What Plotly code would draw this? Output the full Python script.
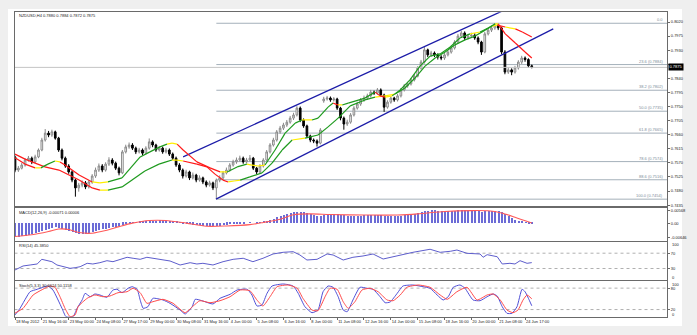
import plotly.graph_objects as go

# ---------------- data ----------------
title_text = "NZDUSD,H4 0.7880 0.7884 0.7872 0.7875"
macd_text = "MACD(12,26,9) -0.00071 0.00006"
rsi_text = "RSI(14) 45.3850"
stoch_text = "Stoch(5,3,3) 30.6624 50.1158"

x_tick_bars = [0, 8, 16, 24, 32, 40, 48, 56, 64, 72, 80, 88, 96, 104, 112, 120, 128, 136, 144, 152]
x_tick_text = ["18 May 2012", "21 May 16:00", "23 May 00:00", "24 May 08:00", "27 May 17:00",
               "29 May 00:00", "30 May 08:00", "31 May 16:00", "4 Jun 00:00", "5 Jun 08:00",
               "6 Jun 16:00", "8 Jun 00:00", "11 Jun 08:00", "12 Jun 16:00", "14 Jun 00:00",
               "15 Jun 08:00", "18 Jun 16:00", "20 Jun 00:00", "21 Jun 08:00", "24 Jun 17:00"]

price_ticks = [0.8020, 0.7975, 0.7930, 0.7885, 0.7840, 0.7795, 0.7750, 0.7705,
               0.7660, 0.7615, 0.7570, 0.7525, 0.7480, 0.7435]

# candles, in units of 0.0001
open_pips = [7589, 7547, 7553, 7563, 7579, 7585, 7573, 7589, 7611, 7643,
             7665, 7659, 7669, 7649, 7611, 7585, 7560, 7541, 7515, 7490,
             7499, 7506, 7493, 7509, 7528, 7547, 7560, 7547, 7566, 7579,
             7569, 7553, 7538, 7605, 7621, 7627, 7617, 7605, 7611, 7601,
             7617, 7637, 7627, 7611, 7617, 7605, 7611, 7598, 7585, 7563,
             7547, 7528, 7541, 7522, 7531, 7515, 7522, 7509, 7499, 7506,
             7490, 7515, 7522, 7538, 7547, 7563, 7573, 7579, 7585, 7573,
             7579, 7585, 7553, 7541, 7560, 7579, 7605, 7627, 7643, 7669,
             7681, 7691, 7700, 7713, 7723, 7745, 7707, 7688, 7656, 7643,
             7640, 7633, 7768, 7774, 7777, 7771, 7774, 7745, 7713, 7694,
             7700, 7723, 7745, 7758, 7771, 7777, 7784, 7796, 7793, 7803,
             7787, 7748, 7764, 7777, 7771, 7784, 7803, 7816, 7822, 7835,
             7847, 7873, 7892, 7931, 7915, 7921, 7915, 7908, 7905, 7915,
             7924, 7937, 7956, 7975, 7985, 7969, 7975, 7978, 7969, 7956,
             7924, 7982, 7994, 8001, 8010, 8001, 7924, 7860, 7867, 7860,
             7873, 7892, 7905, 7900, 7880]
high_pips = [7593, 7560, 7570, 7585, 7592, 7590, 7596, 7616, 7650, 7678,
             7672, 7676, 7673, 7653, 7616, 7590, 7566, 7546, 7519, 7506,
             7514, 7512, 7515, 7534, 7555, 7568, 7566, 7572, 7588, 7585,
             7574, 7558, 7611, 7628, 7635, 7633, 7622, 7618, 7616, 7623,
             7648, 7642, 7631, 7624, 7622, 7618, 7616, 7603, 7590, 7569,
             7552, 7548, 7545, 7539, 7535, 7530, 7526, 7514, 7513, 7510,
             7520, 7530, 7544, 7555, 7569, 7580, 7587, 7593, 7590, 7586,
             7595, 7589, 7557, 7566, 7585, 7611, 7633, 7650, 7675, 7688,
             7698, 7707, 7720, 7730, 7751, 7750, 7712, 7692, 7660, 7648,
             7645, 7681, 7781, 7784, 7782, 7780, 7778, 7749, 7718, 7708,
             7729, 7751, 7765, 7777, 7785, 7791, 7803, 7801, 7809, 7808,
             7791, 7770, 7783, 7781, 7790, 7809, 7822, 7829, 7841, 7854,
             7879, 7899, 7940, 7935, 7928, 7926, 7920, 7914, 7921, 7930,
             7944, 7962, 7982, 7992, 7990, 7982, 7986, 7984, 7974, 7960,
             7988, 8000, 8008, 8016, 8014, 8005, 7930, 7876, 7872, 7880,
             7898, 7912, 7910, 7904, 7884]
low_pips = [7540, 7541, 7549, 7558, 7574, 7566, 7568, 7585, 7607, 7638,
            7652, 7653, 7644, 7605, 7578, 7554, 7535, 7508, 7462, 7478,
            7492, 7486, 7488, 7503, 7522, 7541, 7540, 7542, 7560, 7562,
            7547, 7530, 7534, 7600, 7615, 7611, 7598, 7600, 7594, 7597,
            7612, 7620, 7605, 7606, 7599, 7600, 7592, 7579, 7557, 7540,
            7520, 7523, 7515, 7517, 7508, 7510, 7502, 7492, 7494, 7483,
            7454, 7508, 7517, 7533, 7542, 7558, 7567, 7574, 7567, 7568,
            7574, 7547, 7534, 7537, 7555, 7575, 7600, 7622, 7638, 7663,
            7675, 7685, 7695, 7707, 7718, 7700, 7682, 7649, 7636, 7633,
            7622, 7629, 7762, 7769, 7765, 7766, 7739, 7706, 7676, 7688,
            7695, 7718, 7740, 7752, 7765, 7771, 7779, 7787, 7788, 7781,
            7733, 7743, 7759, 7765, 7766, 7779, 7798, 7810, 7817, 7830,
            7843, 7868, 7887, 7908, 7909, 7908, 7900, 7898, 7899, 7910,
            7919, 7932, 7951, 7970, 7962, 7964, 7970, 7963, 7949, 7915,
            7920, 7977, 7988, 7995, 7994, 7917, 7853, 7854, 7850, 7855,
            7868, 7886, 7893, 7874, 7872]
close_pips = [7547, 7553, 7563, 7579, 7585, 7573, 7589, 7611, 7643, 7665,
              7659, 7669, 7649, 7611, 7585, 7560, 7541, 7515, 7490, 7499,
              7506, 7493, 7509, 7528, 7547, 7560, 7547, 7566, 7579, 7569,
              7553, 7538, 7605, 7621, 7627, 7617, 7605, 7611, 7601, 7617,
              7637, 7627, 7611, 7617, 7605, 7611, 7598, 7585, 7563, 7547,
              7528, 7541, 7522, 7531, 7515, 7522, 7509, 7499, 7506, 7490,
              7515, 7522, 7538, 7547, 7563, 7573, 7579, 7585, 7573, 7579,
              7585, 7553, 7541, 7560, 7579, 7605, 7627, 7643, 7669, 7681,
              7691, 7700, 7713, 7723, 7745, 7707, 7688, 7656, 7643, 7640,
              7633, 7675, 7774, 7777, 7771, 7774, 7745, 7713, 7694, 7700,
              7723, 7745, 7758, 7771, 7777, 7784, 7796, 7793, 7803, 7787,
              7748, 7764, 7777, 7771, 7784, 7803, 7816, 7822, 7835, 7847,
              7873, 7892, 7931, 7915, 7921, 7915, 7908, 7905, 7915, 7924,
              7937, 7956, 7975, 7985, 7969, 7975, 7978, 7969, 7956, 7924,
              7982, 7994, 8001, 8010, 8001, 7924, 7860, 7867, 7860, 7873,
              7892, 7905, 7900, 7880, 7875]

# two coloured moving averages (bar index, price in 0.0001)
fast_bar = [0, 3.0, 6.0, 7.7, 9.8, 11.9, 13.4, 14.9, 19.1, 23.0, 25.3, 27.7, 31.9, 37.3, 40.2,
            43.2, 45.3, 46.8, 48.3, 50.1, 54.2, 58.1, 61.1, 63.2, 66.2, 69.1, 70.6, 72.4, 74.5,
            77.5, 80.5, 83.5, 85.5, 88.5, 90.3, 93.3, 94.8, 96.3, 97.5, 99.3, 104.3, 107.3, 108.8,
            110.3, 112.4, 114.8, 117.7, 120.7, 123.7, 126.7, 129.7, 132.6, 135.6, 138.6, 141.0,
            143.1, 144.0, 146.1, 149.1, 152.0, 154]
fast_pips = [7586, 7566, 7554, 7554, 7566, 7576, 7573, 7563, 7531, 7509, 7506, 7509, 7522, 7589, 7605,
             7621, 7630, 7633, 7630, 7611, 7573, 7554, 7541, 7541, 7557, 7566, 7563, 7560, 7563,
             7611, 7665, 7697, 7707, 7707, 7713, 7748, 7761, 7755, 7755, 7761, 7777, 7796, 7784,
             7780, 7784, 7803, 7835, 7879, 7911, 7918, 7940, 7969, 7982, 7988, 8001,
             8014, 8014, 7982, 7953, 7924, 7905]
slow_bar = [0, 3.0, 6.0, 8.9, 13.1, 19.1, 23.0, 25.3, 27.7, 31.9, 38.7, 42.9, 45.0, 46.8, 48.3,
            50.1, 54.2, 57.2, 59.6, 62.0, 63.5, 65.3, 67.1, 70.0, 73.6, 76.6, 79.6, 82.6, 86.4,
            90.3, 93.3, 96.3, 99.9, 104.3, 107.3, 110.3, 113.3, 116.2, 119.2, 122.2, 125.2, 128.2,
            131.1, 134.1, 137.1, 140.1, 142.2, 143.7, 146.1, 149.1, 151.2, 154]
slow_pips = [7598, 7582, 7569, 7557, 7547, 7515, 7490, 7483, 7483, 7493, 7544, 7566, 7573, 7579, 7579,
             7576, 7566, 7557, 7534, 7515, 7509, 7512, 7515, 7525, 7538, 7569, 7611, 7643, 7649,
             7659, 7685, 7713, 7752, 7771, 7780, 7784, 7790, 7809, 7841, 7879, 7905, 7924,
             7947, 7963, 7975, 7994, 8007, 8010, 8004, 7998, 7988, 7972]

# regression channel end points (bar index, price)
upper_bar = [50.1, 146.0]
upper_price = [0.7589, 0.8059]
lower_bar = [59.9, 160.4]
lower_price = [0.7454, 0.7998]

# Fibonacci retracement
fib_start_bar = 60
fib_prices = [0.8016, 0.7884, 0.7802, 0.7735, 0.7665, 0.7574, 0.7516, 0.7454]
fib_labels = ["0.0", "23.6 (0.7884)", "38.2 (0.7802)", "50.0 (0.7735)", "61.8 (0.7665)",
              "78.6 (0.7574)", "88.6 (0.7516)", "100.0 (0.7454)"]
bid_price = 0.7875
bid_text = "0.7875"

# MACD
macd_hist = [-0.0064, -0.0063, -0.0061, -0.0058,
             -0.0055, -0.0052, -0.0048, -0.0044,
             -0.0038, -0.0032, -0.0027, -0.0023, -0.0021, -0.0022,
             -0.0026, -0.0031, -0.0036, -0.0041, -0.0046, -0.0049, -0.0050,
             -0.0050, -0.0048, -0.0044, -0.0039, -0.0034, -0.0030, -0.0026,
             -0.0022, -0.0019, -0.0017, -0.0015, -0.0009, -0.0005,
             -0.0002, 0.0001, 0.0003, 0.0005, 0.0006, 0.0007, 0.0009, 0.0010, 0.0010, 0.0011, 0.0011, 0.0010, 0.0009,
             0.0007, 0.0004, 0.0001, -0.0002, -0.0004, -0.0006, -0.0008, -0.0010, -0.0011,
             -0.0013, -0.0014, -0.0015, -0.0016, -0.0015, -0.0013, -0.0011, -0.0009, -0.0007,
             -0.0005, -0.0003, -0.0002, -0.0001, 0.0000, 0.0001, 0.0000, -0.0001,
             0.0002, 0.0005, 0.0009, 0.0014, 0.0019, 0.0025, 0.0030, 0.0035, 0.0040, 0.0044, 0.0047, 0.0050,
             0.0050, 0.0048, 0.0044, 0.0040, 0.0036, 0.0033, 0.0032, 0.0035,
             0.0038, 0.0040, 0.0041, 0.0040, 0.0037, 0.0034, 0.0032, 0.0031,
             0.0031, 0.0032, 0.0033, 0.0034, 0.0034, 0.0035, 0.0035, 0.0035, 0.0034, 0.0031, 0.0030, 0.0030, 0.0030, 0.0031,
             0.0032, 0.0034, 0.0036, 0.0039, 0.0042, 0.0046, 0.0050, 0.0054, 0.0056, 0.0057,
             0.0057, 0.0056, 0.0055, 0.0054, 0.0054, 0.0055, 0.0056, 0.0058, 0.0059, 0.0059, 0.0058, 0.0057, 0.0056, 0.0054, 0.0051,
             0.0052, 0.0053, 0.0054, 0.0055, 0.0055,
             0.0049, 0.0040, 0.0031, 0.0022, 0.0015, 0.0009, 0.0004, 0.0001, -0.0003, -0.0007]
signal_bar = [0, 5, 10, 13, 16, 19, 23, 27, 31, 35, 40, 45, 51, 57, 63, 70, 74, 79, 83, 88,
              94, 104, 114, 120, 128, 136, 141, 145, 149, 154]
signal_val = [-0.0061, -0.0053, -0.0038, -0.0027, -0.0029, -0.0043, -0.0046, -0.0034, -0.0016, 0.0000,
              0.0012, 0.0012, 0.0000, -0.0014, -0.0013, -0.0007, 0.0003, 0.0018, 0.0038, 0.0042,
              0.0039, 0.0037, 0.0037, 0.0042, 0.0053, 0.0057, 0.0056, 0.0046, 0.0027, 0.00006]
macd_ticks = [0.00568, 0.0, -0.00646]
macd_ticktext = ["0.00568", "0.00", "-0.00646"]

# RSI
rsi_bar = [0, 2.4, 4.5, 6.6, 8.0, 9.5, 11.0, 12.5, 14.3, 16.4, 17.9, 19.4, 21.5, 23.2, 25.3, 27.4,
           29.2, 31.3, 33.4, 35.2, 37.3, 39.3, 41.1, 43.2, 46.2, 49.2, 52.2, 54.2, 56.0, 59.0, 62.0,
           65.0, 68.0, 70.9, 73.9, 76.9, 79.9, 82.9, 84.9, 87.0, 90.0, 93.0, 94.8, 97.8, 100.7,
           103.7, 106.7, 109.7, 112.7, 115.6, 118.6, 123.7, 126.7, 129.7, 131.7, 134.7, 138.6,
           139.5, 140.7, 143.7, 145.2, 147.5, 149.0, 150.5, 152.6, 154]
rsi_val = [26.1, 36.6, 39.2, 41.8, 54, 50.4, 47.8, 39.2, 34.7, 30.5, 32.1, 34.7, 43.6, 41.8, 45.2, 50.4,
           47.8, 54, 59.3, 56.7, 54, 59.3, 56.7, 52.2, 49.6, 39.2, 45.2, 41.8, 43.6, 39.2, 47.8,
           54, 56.7, 47.8, 56.7, 67.9, 72.3, 73.9, 65.3, 52.2, 54, 67.9, 65.3, 52.2, 59.3,
           62.7, 67.9, 54.8, 60.8, 65.3, 72.3, 80.2, 72.3, 74.9, 78.3, 69.7, 67.9,
           59.3, 66.1, 60.8, 41.8, 43.6, 41.8, 50.4, 43.6, 45.385]
rsi_levels = [70, 30]

# Stochastic
k_bar = [0, 1.5, 4.5, 6.6, 8.3, 9.8, 11.3, 14.0, 15.2, 17.3,
         18.5, 20.0, 20.9, 22.4, 23.8, 25.3, 27.4, 29.2, 30.4, 31.9,
         33.7, 34.9, 36.4, 37.3, 38.2, 39.6, 41.1, 44.1, 46.2, 49.2,
         50.7, 52.8, 53.7, 56.0, 59.0, 61.1, 64.1, 66.2, 69.2, 70.6,
         72.1, 73.6, 75.1, 76.6, 79.9, 82.9, 84.4, 86.4, 88.5, 90.3,
         91.8, 93.3, 94.8, 96.3, 97.8, 99.0, 100.7, 102.8, 104.9, 106.7,
         108.8, 110.3, 111.8, 113.9, 115.6, 118.6, 121.6, 123.7, 125.8, 127.6,
         129.1, 130.6, 132.6, 134.1, 136.5, 138.6, 140.7, 142.5, 143.7, 145.2,
         146.6, 148.1, 149.6, 151.1, 152.0, 153.0, 154]
k_val = [5, 23.5, 70, 76.8, 82.4, 86, 74.8, 23.5, 0, 0,
         23.5, 46.8, 65.5, 56, 63.6, 60.8, 54.3, 74.8, 76.8, 67.2,
         79.6, 84, 76.8, 46.8, 23.5, 28, 51.5, 46.8, 37.5, 18.8,
         7.6, 28, 48.7, 44, 35.6, 51.5, 62.7, 74.8, 76.8, 60.8,
         30, 32.8, 65.5, 86, 91.6, 86, 65.5, 28, 11.2, 18.8,
         70, 86, 82.4, 56, 18.8, 14, 46.8, 82.4, 79.6, 76.8,
         56, 39.2, 41.2, 65.5, 86, 88.8, 84, 79.6, 60.8, 46.8,
         56, 82.4, 88.8, 79.6, 46.8, 44.8, 56, 63.6, 58, 28,
         9.5, 9.5, 28, 76.8, 70, 51.5, 30.66]
d_bar = [0, 2.4, 5.4, 8.3, 10.4, 11.9, 13.4, 14.9, 16.4, 17.9,
         18.8, 21.5, 23.8, 26.2, 28.3, 30.7, 33.4, 35.2, 37.3, 39.3,
         41.1, 44.1, 47.1, 50.7, 53.1, 55.1, 58.1, 61.1, 64.1, 67.1,
         70.0, 72.1, 73.9, 76.0, 78.1, 81.4, 84.1, 85.8, 88.5, 90.3,
         92.4, 93.9, 96.0, 97.8, 99.3, 101.3, 103.4, 105.8, 108.2, 110.9,
         112.7, 114.8, 116.8, 120.1, 123.7, 126.7, 128.8, 131.7, 134.7, 137.7,
         140.7, 142.5, 144.6, 146.6, 148.4, 149.9, 151.4, 152.6, 154]
d_val = [10, 23.5, 60.8, 76.8, 86, 82.4, 56, 23.5, 0, 5,
         28, 51.5, 60.8, 56, 58, 67.2, 70, 79.6, 67.2, 37.5,
         42, 48.7, 37.5, 11.2, 30, 44.8, 39.2, 44.8, 56, 74.8,
         72.8, 46.8, 30, 56, 84, 88.8, 79.6, 51.5, 18.8, 16.8,
         56, 79.6, 76.8, 42, 23.5, 42, 74.8, 79.6, 70, 46.8,
         44.8, 60.8, 82.4, 88.8, 82.4, 60.8, 48.7, 70, 82.4, 46.8,
         60.8, 63.6, 46.8, 18.8, 11.2, 18.8, 46.8, 60.8, 50.1158]
stoch_levels = [80, 20]

n = len(close_pips)
assert len(open_pips) == n and len(high_pips) == n and len(low_pips) == n and len(macd_hist) == n
assert len(fast_bar) == len(fast_pips) and len(slow_bar) == len(slow_pips)
assert len(rsi_bar) == len(rsi_val) and len(k_bar) == len(k_val) and len(d_bar) == len(d_val)
assert len(signal_bar) == len(signal_val)

# ---------------- layout constants ----------------
W, H = 697, 335
FONT = "Liberation Sans, Arial, sans-serif"
FS = 4
BORDER = "#6a6a6a"
X0, X1 = -0.15, 194.3
XD = [14.5 / W, 667 / W]


def py(Y):
    return 1 - Y / H


D_MAIN = [py(207.3), py(12.3)]
D_MACD = [py(240.7), py(207.3)]
D_RSI = [py(280.0), py(241.7)]
D_STO = [py(316.7), py(281.0)]

bars = list(range(n))
to_price = lambda seq: [v / 10000 for v in seq]

fig = go.Figure()

# bid line
fig.add_trace(go.Scatter(x=[X0, X1], y=[bid_price, bid_price], mode="lines",
                         line=dict(color="#c4c4c4", width=1), xaxis="x", yaxis="y", hoverinfo="skip"))

# channel
for bx, bp in ((upper_bar, upper_price), (lower_bar, lower_price)):
    fig.add_trace(go.Scatter(x=bx, y=bp, mode="lines", line=dict(color="#1c1ca8", width=1.3),
                             xaxis="x", yaxis="y", hoverinfo="skip"))

# candles
fig.add_trace(go.Candlestick(
    x=bars, open=to_price(open_pips), high=to_price(high_pips),
    low=to_price(low_pips), close=to_price(close_pips),
    increasing=dict(line=dict(color="#8a8a8a", width=1), fillcolor="#ffffff"),
    decreasing=dict(line=dict(color="#000000", width=1), fillcolor="#000000"),
    whiskerwidth=0, xaxis="x", yaxis="y", hoverinfo="skip"))

# coloured moving averages
MA_COL = {"up": "#1e9a1e", "down": "#ff1a1a", "flat": "#ffee00"}


def add_ma(xs, ys_pips, thr=2.1):
    groups = {k: ([], []) for k in MA_COL}
    ys = to_price(ys_pips)
    for k in range(len(xs) - 1):
        s = (ys_pips[k + 1] - ys_pips[k]) / (xs[k + 1] - xs[k])
        c = "flat" if abs(s) <= thr else ("up" if s > 0 else "down")
        gx, gy = groups[c]
        gx += [xs[k], xs[k + 1], None]
        gy += [ys[k], ys[k + 1], None]
    for c, (gx, gy) in groups.items():
        fig.add_trace(go.Scatter(x=gx, y=gy, mode="lines", line=dict(color=MA_COL[c], width=1.2),
                                 xaxis="x", yaxis="y", hoverinfo="skip", connectgaps=False))


add_ma(slow_bar, slow_pips)
add_ma(fast_bar, fast_pips)

# MACD
fig.add_trace(go.Bar(x=bars, y=macd_hist, width=0.32, marker=dict(color="#6c6cd6", line=dict(width=0)),
                     xaxis="x2", yaxis="y2", hoverinfo="skip"))
fig.add_trace(go.Scatter(x=signal_bar, y=signal_val, mode="lines",
                         line=dict(color="#ff5a5a", width=1.1, shape="spline", smoothing=0.8),
                         xaxis="x2", yaxis="y2", hoverinfo="skip"))

# RSI
fig.add_trace(go.Scatter(x=rsi_bar, y=rsi_val, mode="lines", line=dict(color="#5d5dcc", width=1),
                         xaxis="x3", yaxis="y3", hoverinfo="skip"))

# Stochastic
fig.add_trace(go.Scatter(x=k_bar, y=k_val, mode="lines",
                         line=dict(color="#4f4fd6", width=1, shape="spline", smoothing=0.5),
                         xaxis="x4", yaxis="y4", hoverinfo="skip"))
fig.add_trace(go.Scatter(x=d_bar, y=d_val, mode="lines",
                         line=dict(color="#ff4a4a", width=1, shape="spline", smoothing=0.5),
                         xaxis="x4", yaxis="y4", hoverinfo="skip"))

shapes = [dict(type="rect", xref="paper", yref="paper", x0=8 / W, x1=682 / W, y0=py(326), y1=py(9),
               fillcolor="white", line=dict(width=0), layer="below")]
for p in fib_prices:
    shapes.append(dict(type="line", xref="x", yref="y", x0=fib_start_bar, x1=X1, y0=p, y1=p,
                       line=dict(color="#a4b0ba", width=1), layer="below"))
for lv in rsi_levels:
    shapes.append(dict(type="line", xref="x3 domain", yref="y3", x0=0, x1=1, y0=lv, y1=lv,
                       line=dict(color="#b0b0b0", width=1, dash="dot"), layer="below"))
for lv in stoch_levels:
    shapes.append(dict(type="line", xref="x4 domain", yref="y4", x0=0, x1=1, y0=lv, y1=lv,
                       line=dict(color="#b0b0b0", width=1, dash="dot"), layer="below"))

annotations = []
tf = dict(family=FONT, size=FS, color="#222222")
for txt, Y in ((title_text, 15.5), (macd_text, 212.3), (rsi_text, 245.7), (stoch_text, 285.7)):
    annotations.append(dict(text=txt, xref="paper", yref="paper", x=16.5 / W, y=py(Y), xanchor="left",
                            yanchor="middle", showarrow=False, font=tf))
for p, lab in zip(fib_prices, fib_labels):
    annotations.append(dict(text=lab, xref="x", yref="y", x=X1 - 0.5, y=p, xanchor="right", yanchor="bottom",
                            showarrow=False, font=dict(family=FONT, size=FS, color="#7d8c99"), yshift=-1))
for txt, Y in (("100", 244.0), ("0", 277.3), ("100", 284.3), ("0", 314.3)):
    annotations.append(dict(text=txt, xref="paper", yref="paper", x=670 / W, y=py(Y), xanchor="left",
                            yanchor="middle", showarrow=False, font=tf))
# current-price box (covers the 0.7885 grid label, as in the terminal)
annotations.append(dict(text=bid_text, xref="paper", yref="y", x=667.5 / W, y=bid_price, xanchor="left",
                        yanchor="middle", showarrow=False, bgcolor="#000000", borderpad=0.4,
                        font=dict(family=FONT, size=FS, color="#ffffff")))

price_ticktext = [("" if abs(v - bid_price) < 0.0012 else f"{v:.4f}") for v in price_ticks]


def xax(anchor, labels=False):
    d = dict(domain=XD, anchor=anchor, range=[X0, X1], showgrid=False, zeroline=False,
             showline=True, mirror=True, linecolor=BORDER, linewidth=1, fixedrange=True)
    if labels:
        d.update(tickvals=x_tick_bars, ticktext=x_tick_text, ticks="outside", ticklen=2, tickangle=0,
                 tickcolor=BORDER, ticklabelposition="outside right", tickfont=tf, showticklabels=True)
    else:
        d.update(showticklabels=False, ticks="")
    return d


def yax(anchor, domain, rng, tickvals, ticktext):
    return dict(domain=domain, anchor=anchor, side="right", range=rng, tickvals=tickvals, ticktext=ticktext,
                ticks="outside", ticklen=2, tickcolor=BORDER, showgrid=False, zeroline=False, showline=True,
                mirror=True, linecolor=BORDER, linewidth=1, tickfont=tf, fixedrange=True, tickangle=0)


fig.update_layout(
    width=W, height=H, margin=dict(l=0, r=0, t=0, b=0),
    paper_bgcolor="#efefef", plot_bgcolor="#ffffff", showlegend=False, hovermode=False,
    font=dict(family=FONT, size=FS, color="#222222"),
    xaxis=dict(**xax("y"), rangeslider=dict(visible=False)),
    xaxis2=xax("y2"), xaxis3=xax("y3"), xaxis4=xax("y4", labels=True),
    yaxis=yax("x", D_MAIN, [0.74280, 0.80510], price_ticks, price_ticktext),
    yaxis2=yax("x2", D_MACD, [-0.0080, 0.0072], macd_ticks, macd_ticktext),
    yaxis3=yax("x3", D_RSI, [0, 100], rsi_levels, [str(v) for v in rsi_levels]),
    yaxis4=yax("x4", D_STO, [0, 100], stoch_levels, [str(v) for v in stoch_levels]),
    shapes=shapes, annotations=annotations, bargap=0,
)

fig.write_html("out.html")
